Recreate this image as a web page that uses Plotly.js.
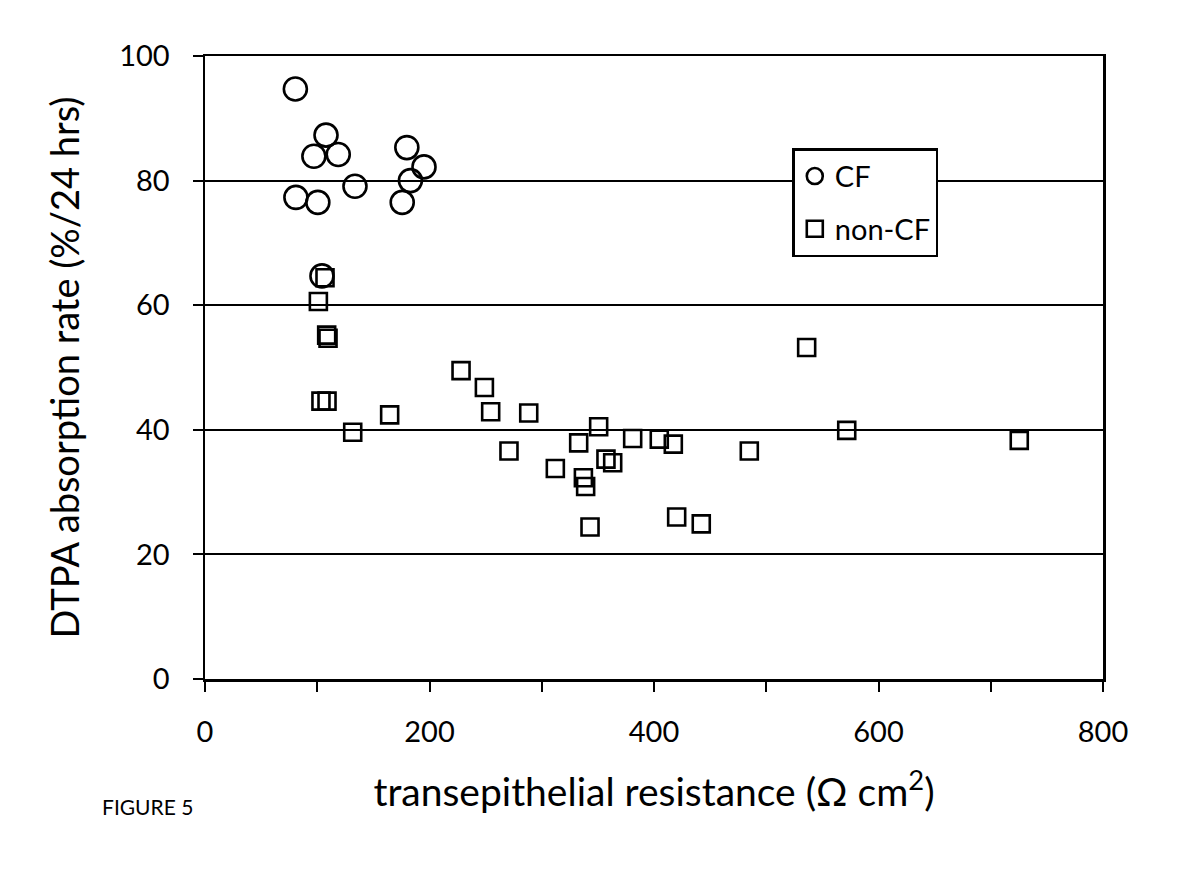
<!DOCTYPE html>
<html>
<head>
<meta charset="utf-8">
<script src="https://cdn.plot.ly/plotly-3.0.1.min.js"></script>
<style>
  html, body { margin: 0; padding: 0; background: #ffffff; }
  #chart { width: 1200px; height: 871px; }
</style>
</head>
<body>
<div id="chart"></div>
<script>
// CF group
const cfResistance = [80.5, 81, 97, 100.5, 107.8, 118.7, 133.6, 104.2, 179.8, 183, 195.1, 175.7];
const cfAbsorption = [94.7, 77.3, 83.9, 76.5, 87.3, 84.2, 79.1, 64.7, 85.3, 80.0, 82.2, 76.5];

// non-CF group
const nonCfResistance = [106.9, 101, 108.4, 109.6, 103.3, 108.7, 131.6, 164.5, 228.1, 248.9, 254.5, 288.4,
  270.8, 312.1, 332.9, 350.7, 337.1, 339.1, 343, 357.2, 363.2, 381, 404.7, 417.2, 420.2, 442.1,
  536, 484.9, 571.7, 725.4];
const nonCfAbsorption = [64.4, 60.6, 55.2, 54.7, 44.6, 44.6, 39.6, 42.4, 49.5, 46.8, 42.9, 42.7,
  36.6, 33.8, 37.9, 40.5, 32.3, 30.9, 24.4, 35.3, 34.7, 38.6, 38.5, 37.7, 26.0, 24.9,
  53.2, 36.6, 39.9, 38.3];

const seriesNames = ["CF", "non-CF"];
const xTickVals = [0, 100, 200, 300, 400, 500, 600, 700, 800];
const xTickText = ["0", "", "200", "", "400", "", "600", "", "800"];
const yTickVals = [0, 20, 40, 60, 80, 100];

const FONT = "Lato, 'Open Sans', 'Liberation Sans', sans-serif";

const traces = [
  {
    type: "scatter", mode: "markers", name: seriesNames[0], legendgroup: "g1",
    x: cfResistance, y: cfAbsorption,
    marker: { symbol: "circle-open", size: 23, color: "#000", line: { color: "#000", width: 2.6 } },
    cliponaxis: false
  },
  {
    type: "scatter", mode: "markers", name: seriesNames[1], legendgroup: "g2",
    x: nonCfResistance, y: nonCfAbsorption,
    marker: { symbol: "square-open", size: 17, color: "#000", line: { color: "#000", width: 2.6 } },
    cliponaxis: false
  }
];

const layout = {
  width: 1200, height: 871,
  paper_bgcolor: "#ffffff", plot_bgcolor: "#ffffff",
  margin: { l: 205, r: 97, t: 56, b: 192 },
  font: { family: FONT, color: "#000", size: 30 },
  showlegend: true,
  legend: {
    x: 0.654, y: 0.852, xanchor: "left", yanchor: "top",
    bgcolor: "#ffffff", bordercolor: "#000", borderwidth: 2.5,
    font: { family: FONT, size: 29, color: "#000" },
    traceorder: "grouped", tracegroupgap: 12, itemwidth: 30
  },
  xaxis: {
    range: [0, 800], tickmode: "array", tickvals: xTickVals, ticktext: xTickText,
    ticks: "outside", ticklen: 10, tickwidth: 2, tickcolor: "#000",
    ticklabelstandoff: 16,
    showline: true, linecolor: "#000", linewidth: 2.5, mirror: true,
    showgrid: false, zeroline: false,
    tickfont: { family: FONT, size: 29, color: "#000" },
    title: { text: "transepithelial resistance (Ω cm<sup>2</sup>)", font: { family: FONT, size: 39, color: "#000" }, standoff: 32 }
  },
  yaxis: {
    range: [0, 100], tickmode: "array", tickvals: yTickVals,
    ticks: "outside", ticklen: 10, tickwidth: 2, tickcolor: "#000",
    ticklabelstandoff: 17,
    showline: true, linecolor: "#000", linewidth: 2.5, mirror: true,
    showgrid: true, gridcolor: "#000", gridwidth: 2, zeroline: false,
    tickfont: { family: FONT, size: 29, color: "#000" },
    title: { text: "DTPA absorption rate (%/24 hrs)", font: { family: FONT, size: 38, color: "#000" }, standoff: 28 }
  },
  annotations: [
    {
      text: "FIGURE 5", xref: "paper", yref: "paper", x: -0.117, y: -0.205,
      xanchor: "left", yanchor: "middle", showarrow: false,
      font: { family: FONT, size: 21, color: "#000" }
    }
  ]
};

Plotly.newPlot("chart", traces, layout, { displayModeBar: false, staticPlot: true });
</script>
</body>
</html>
